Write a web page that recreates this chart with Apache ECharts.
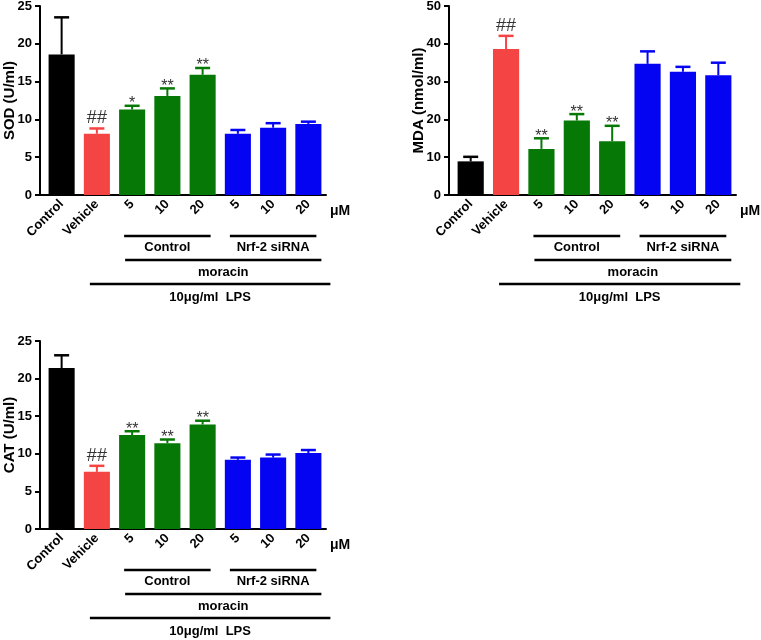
<!DOCTYPE html>
<html>
<head>
<meta charset="utf-8">
<script src="https://cdn.jsdelivr.net/npm/echarts@6/dist/echarts.min.js"></script>
<style>
  html, body { margin: 0; padding: 0; background: #fff; }
  #main { width: 761px; height: 640px; }
</style>
</head>
<body>
<div id="main"></div>
<script>
// groups along the x axis
let categories = ['Control', 'Vehicle', '5', '10', '20', '5', '10', '20']
let barColors = ['#000000', '#f54444', '#067806', '#067806', '#067806', '#0404f2', '#0404f2', '#0404f2']

// SOD (U/ml): mean and SEM
let sodMean = [18.6, 8.1, 11.3, 13.1, 15.9, 8.1, 8.9, 9.4]
let sodSem = [4.9, 0.7, 0.5, 1.0, 0.9, 0.5, 0.6, 0.3]
let sodMarks = ['', '##', '*', '**', '**', '', '', '']

// MDA (nmol/ml)
let mdaMean = [8.9, 38.6, 12.2, 19.7, 14.2, 34.7, 32.6, 31.7]
let mdaSem = [1.2, 3.5, 2.8, 1.7, 4.1, 3.3, 1.3, 3.3]
let mdaMarks = ['', '##', '**', '**', '**', '', '', '']

// CAT (U/ml)
let catMean = [21.4, 7.6, 12.5, 11.4, 13.9, 9.2, 9.5, 10.1]
let catSem = [1.7, 0.8, 0.5, 0.5, 0.5, 0.3, 0.4, 0.4]
let catMarks = ['', '##', '**', '**', '**', '', '', '']

// y axis ticks: min, max, step
let sodTicks = [0, 25, 5]
let mdaTicks = [0, 50, 10]
let catTicks = [0, 25, 5]

// bracket labels under the x axis: [text, from category, to category, row]
let brackets = [
  ['Control', 2, 4, 0],
  ['Nrf-2 siRNA', 5, 7, 0],
  ['moracin', 2, 7, 1],
  ['10\u03bcg/ml  LPS', 1, 7, 2]
]

const font = 'Liberation Sans, Arial, sans-serif'

let panels = [
  {name: 'SOD (U/ml)', mean: sodMean, sem: sodSem, marks: sodMarks, ticks: sodTicks, grid: {left: 44, top: 6, width: 282, height: 189}},
  {name: 'MDA (nmol/ml)', mean: mdaMean, sem: mdaSem, marks: mdaMarks, ticks: mdaTicks, grid: {left: 453, top: 6, width: 283, height: 189}},
  {name: 'CAT (U/ml)', mean: catMean, sem: catSem, marks: catMarks, ticks: catTicks, grid: {left: 44, top: 341, width: 282, height: 188}}
]

// error bar (mean + SEM, upper whisker only) with significance mark on top
function errorRender(marks) {
  return function (params, api) {
    let i = api.value(0)
    let base = api.coord([i, api.value(1)])
    let top = api.coord([i, api.value(2)])
    let color = barColors[i]
    let children = [
      {type: 'line', shape: {x1: base[0], y1: base[1], x2: top[0], y2: top[1]}, style: {stroke: color, lineWidth: 2}},
      {type: 'line', shape: {x1: top[0] - 7.5, y1: top[1], x2: top[0] + 7.5, y2: top[1]}, style: {stroke: color, lineWidth: 2.5}}
    ]
    let m = marks[i]
    if (m) {
      let isHash = m.indexOf('#') >= 0
      children.push({
        type: 'text',
        x: top[0],
        y: isHash ? top[1] - 1 : top[1] - 2,
        style: {
          text: m,
          fill: '#333',
          font: (isHash ? '18px ' : '16px ') + font,
          textAlign: 'center',
          textVerticalAlign: isHash ? 'bottom' : 'middle'
        }
      })
    }
    return {type: 'group', children: children}
  }
}

let option = {
  animation: false,
  grid: [],
  xAxis: [],
  yAxis: [],
  series: []
}

panels.forEach((p, k) => {
  option.grid.push(Object.assign({outerBoundsMode: 'none', containLabel: false}, p.grid))
  option.xAxis.push({
    type: 'category',
    gridIndex: k,
    data: categories,
    axisLine: {lineStyle: {color: '#000', width: 2}},
    axisTick: {alignWithLabel: true, length: 5, lineStyle: {color: '#000', width: 2}},
    axisLabel: {rotate: 45, margin: 7, color: '#000', fontWeight: 'bold', fontSize: 13, fontFamily: font, interval: 0}
  })
  option.yAxis.push({
    type: 'value',
    gridIndex: k,
    min: p.ticks[0],
    max: p.ticks[1],
    interval: p.ticks[2],
    offset: 4,
    name: p.name,
    nameLocation: 'middle',
    nameGap: 23,
    nameMoveOverlap: false,
    nameTextStyle: {color: '#000', fontWeight: 'bold', fontSize: 15, fontFamily: font},
    splitLine: {show: false},
    axisLine: {show: true, lineStyle: {color: '#000', width: 2}},
    axisTick: {show: true, length: 5, lineStyle: {color: '#000', width: 2}},
    axisLabel: {margin: 8, color: '#000', fontWeight: 'bold', fontSize: 13, fontFamily: font}
  })
  option.series.push({
    type: 'bar',
    xAxisIndex: k,
    yAxisIndex: k,
    barWidth: '74%',
    data: p.mean.map((v, i) => ({value: v, itemStyle: {color: barColors[i]}}))
  })
  option.series.push({
    type: 'custom',
    xAxisIndex: k,
    yAxisIndex: k,
    z: 3,
    renderItem: errorRender(p.marks),
    data: p.mean.map((v, i) => [i, v, v + p.sem[i]])
  })
})

let chartDom = document.getElementById('main')
let myChart = echarts.init(chartDom)
myChart.setOption(option)

// bracket lines, labels and the unit, placed from the axes
let rowLine = [41, 65, 89]
let rowText = [52, 77, 102]
let padLeft = [8, 7, 7]
let padRight = [8, 13, 22]
let graphics = []
panels.forEach((p, k) => {
  let zeroY = myChart.convertToPixel({yAxisIndex: k}, 0)
  let cx = (i) => myChart.convertToPixel({xAxisIndex: k}, i)
  // close the corner between the shifted y axis and the x axis
  graphics.push({type: 'line', shape: {x1: p.grid.left - 5, y1: zeroY, x2: p.grid.left, y2: zeroY}, style: {stroke: '#000', lineWidth: 2}})
  brackets.forEach(b => {
    let x1 = cx(b[1]) - padLeft[b[3]]
    let x2 = cx(b[2]) + padRight[b[3]]
    graphics.push({type: 'line', shape: {x1: x1, y1: zeroY + rowLine[b[3]], x2: x2, y2: zeroY + rowLine[b[3]]}, style: {stroke: '#000', lineWidth: 2.5}})
    graphics.push({type: 'text', x: (x1 + x2) / 2, y: zeroY + rowText[b[3]], style: {text: b[0], fill: '#000', font: 'bold 13px ' + font, textAlign: 'center', textVerticalAlign: 'middle'}})
  })
  graphics.push({type: 'text', x: p.grid.left + p.grid.width + 4, y: zeroY + 16, style: {text: '\u03bcM', fill: '#000', font: 'bold 14px ' + font, textAlign: 'left', textVerticalAlign: 'middle'}})
})
myChart.setOption({graphic: graphics})
</script>
</body>
</html>
